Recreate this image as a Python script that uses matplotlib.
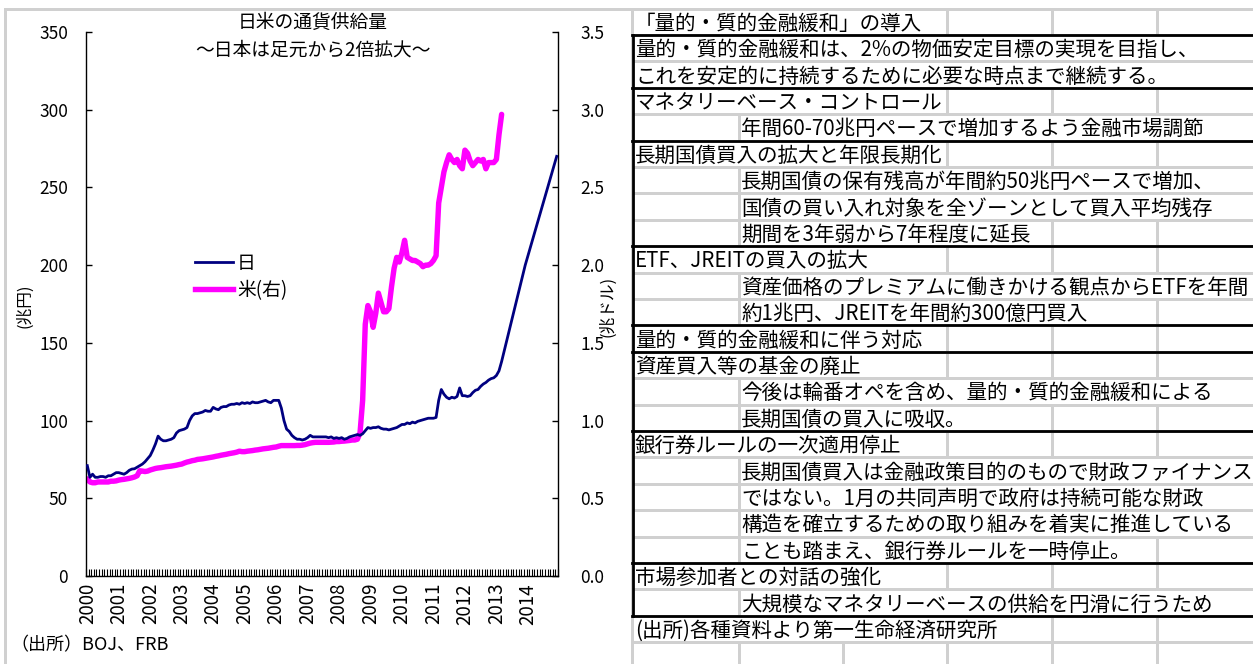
import numpy as np
import matplotlib.pyplot as plt
from matplotlib.lines import Line2D

plt.rcParams['font.family'] = ['Noto Sans CJK JP', 'DejaVu Sans']

W, H = 1253, 664

# ---- chart data (monthly, Jan 2000 onwards) ----
years = list(range(2000, 2015))

# Japan monetary base, trillion yen, Jan 2000 - Mar 2013
jp_base = [
    71, 63.5, 65.5, 63.5, 63.5, 64, 64, 63.5, 64.5, 64.5, 65.5, 66.5,            # 2000
    66.5, 66, 65.5, 66.5, 68, 68.8, 69, 70, 71, 72, 73.5, 75.5,                  # 2001
    77.5, 81, 85, 90, 88, 87, 87, 87.5, 88, 89, 92, 93.5,                        # 2002
    94, 94.5, 95.5, 100, 103, 104.5, 104.5, 105, 105.5, 106.5, 106, 106,         # 2003
    108.5, 107.5, 107, 108.5, 109, 109, 110, 110.5, 110.5, 111, 110.5, 111.5,    # 2004
    111, 111.5, 111, 112, 111.5, 111.5, 112, 112.5, 113, 112, 111.5, 113,        # 2005
    113, 113, 108, 100, 94.5, 93, 90.5, 89, 88, 88, 87.5, 88,                    # 2006
    89, 90.5, 89.5, 89.5, 89.5, 89.5, 89.5, 89.5, 89, 89.5, 88.5, 89,            # 2007
    88.5, 89, 88, 88.5, 89.5, 90, 90.5, 91, 90.5, 91.5, 93.5, 95.5,              # 2008
    95, 95.5, 95.5, 96, 95, 94.5, 94.5, 94, 94.5, 95, 95.5, 96.5,                # 2009
    97.5, 97.5, 98.5, 98, 99, 98.5, 99.5, 100, 100.5, 101, 101.5, 101.5,         # 2010
    101.5, 102, 113, 120, 117, 115, 114, 115, 114.5, 115.5, 121, 116,            # 2011
    116, 115.5, 116, 118, 119.5, 120, 122, 123.5, 124.5, 126, 127, 127.5,        # 2012
    129, 132, 138,                                                               # 2013
]
# BOJ targets (end 2013, end 2014)
jp_target_month = ['2013-12', '2014-12']
jp_target = [200, 270]

# US monetary base, trillion dollars, Jan 2000 - Mar 2013
us_base = [
    0.625, 0.605, 0.60, 0.60, 0.605, 0.605, 0.605, 0.605, 0.605, 0.61, 0.61, 0.612,   # 2000
    0.617, 0.62, 0.622, 0.625, 0.628, 0.632, 0.637, 0.645, 0.677, 0.675, 0.672, 0.675,  # 2001
    0.682, 0.687, 0.692, 0.695, 0.697, 0.70, 0.703, 0.705, 0.707, 0.71, 0.713, 0.717,   # 2002
    0.72, 0.727, 0.733, 0.737, 0.742, 0.745, 0.75, 0.752, 0.754, 0.757, 0.76, 0.763,    # 2003
    0.766, 0.77, 0.773, 0.777, 0.78, 0.783, 0.787, 0.79, 0.793, 0.797, 0.803, 0.80,    # 2004
    0.80, 0.803, 0.805, 0.807, 0.81, 0.812, 0.815, 0.818, 0.82, 0.822, 0.825, 0.828,   # 2005
    0.83, 0.835, 0.839, 0.839, 0.839, 0.839, 0.839, 0.839, 0.84, 0.84, 0.842, 0.845,   # 2006
    0.85, 0.855, 0.858, 0.86, 0.86, 0.86, 0.86, 0.86, 0.86, 0.861, 0.862, 0.865,       # 2007
    0.865, 0.867, 0.868, 0.87, 0.872, 0.875, 0.875, 0.88, 0.92, 1.13, 1.62, 1.74,      # 2008
    1.70, 1.60, 1.69, 1.82, 1.76, 1.70, 1.70, 1.72, 1.86, 1.98, 2.05, 2.02,            # 2009
    2.08, 2.16, 2.05, 2.04, 2.03, 2.03, 2.02, 2.01, 1.99, 2.00, 2.00, 2.01,            # 2010
    2.03, 2.06, 2.40, 2.50, 2.60, 2.66, 2.71, 2.68, 2.66, 2.68, 2.64, 2.62,            # 2011
    2.74, 2.72, 2.67, 2.64, 2.66, 2.68, 2.67, 2.68, 2.62, 2.66, 2.66, 2.66,            # 2012
    2.68, 2.84, 2.97,                                                                  # 2013
]

series_names = ['日', '米(右)']

# ---- table text (right side) ----
table_text = [
    '「量的・質的金融緩和」の導入',
    '量的・質的金融緩和は、2%の物価安定目標の実現を目指し、',
    'これを安定的に持続するために必要な時点まで継続する。',
    'マネタリーベース・コントロール',
    '年間60-70兆円ペースで増加するよう金融市場調節',
    '長期国債買入の拡大と年限長期化',
    '長期国債の保有残高が年間約50兆円ペースで増加、',
    '国債の買い入れ対象を全ゾーンとして買入平均残存',
    '期間を3年弱から7年程度に延長',
    'ETF、JREITの買入の拡大',
    '資産価格のプレミアムに働きかける観点からETFを年間',
    '約1兆円、JREITを年間約300億円買入',
    '量的・質的金融緩和に伴う対応',
    '資産買入等の基金の廃止',
    '今後は輪番オペを含め、量的・質的金融緩和による',
    '長期国債の買入に吸収。',
    '銀行券ルールの一次適用停止',
    '長期国債買入は金融政策目的のもので財政ファイナンス',
    'ではない。1月の共同声明で政府は持続可能な財政',
    '構造を確立するための取り組みを着実に推進している',
    'ことも踏まえ、銀行券ルールを一時停止。',
    '市場参加者との対話の強化',
    '大規模なマネタリーベースの供給を円滑に行うため',
    '(出所)各種資料より第一生命経済研究所',
    '',
]
table_indent = [0, 0, 0, 0, 1, 0, 1, 1, 1, 0, 1, 1, 0, 0, 1, 1, 0, 1, 1, 1, 1, 0, 1, 0, 0]
box_breaks = [1, 3, 5, 9, 12, 13, 16, 21, 23]   # rows with a thick top border


def fx(x):
    return x / W


def fy(y):
    return 1 - y / H


def month_index(s):
    y, m = s.split('-')
    return (int(y) - 2000) * 12 + int(m) - 1


fig = plt.figure(figsize=(W / 100, H / 100), dpi=100)
ax = fig.add_axes([fx(86), fy(576), (558 - 86) / W, (576 - 32) / H])
ax2 = ax.twinx()

navy = '#000080'
magenta = '#ff00ff'

jp_x = list(np.arange(len(jp_base)) + 0.5) + [month_index(m) + 0.5 for m in jp_target_month]
jp_y = jp_base + jp_target
ax.plot(jp_x, jp_y, color=navy, lw=2.0, solid_joinstyle='round', zorder=3)

us_x = np.arange(len(us_base)) + 0.5
ax2.plot(us_x, us_base, color=magenta, lw=3.9, solid_joinstyle='round',
         solid_capstyle='round', zorder=2)

ax.set_xlim(0, 180)
ax.set_ylim(0, 350)
ax2.set_ylim(0, 3.5)
ax.set_yticks(np.arange(0, 351, 50))
ax2.set_yticks(np.arange(0, 3.51, 0.5))
ax2.set_yticklabels(['%.1f' % v for v in np.arange(0, 3.51, 0.5)])

ax.set_xticks([12 * k + 0.5 for k in range(len(years))])
ax.set_xticklabels([str(y) for y in years], rotation=90, fontsize=13.5)
ax.set_xticks(np.arange(0, 181), minor=True)
ax.tick_params(axis='x', which='major', length=0, pad=5)
ax.tick_params(axis='x', which='minor', direction='in', length=5, width=0.8)
ax.tick_params(axis='y', direction='in', length=4, width=1, labelsize=12.5, pad=13)
ax2.tick_params(axis='y', direction='in', length=4, width=1, labelsize=12.5, pad=16)

for a in (ax, ax2):
    a.spines['top'].set_visible(False)
    for s in a.spines.values():
        s.set_linewidth(1.0)
ax.spines['right'].set_visible(False)
ax2.spines['left'].set_visible(False)
ax2.spines['bottom'].set_visible(False)
ax.set_zorder(ax2.get_zorder() + 1)
ax.patch.set_visible(False)

handles = [Line2D([], [], color=navy, lw=2.0), Line2D([], [], color=magenta, lw=3.9)]
ax.legend(handles, series_names, loc='upper left', bbox_to_anchor=(fx(195), fy(253)),
          bbox_transform=fig.transFigure, frameon=False, fontsize=13.5,
          handlelength=2.0, handletextpad=0.25, labelspacing=0.3,
          borderpad=0, borderaxespad=0)

# titles and labels
fig.text(fx(313), fy(22), '日米の通貨供給量', ha='center', va='center', fontsize=13.5)
fig.text(fx(313), fy(50), '～日本は足元から2倍拡大～', ha='center', va='center', fontsize=13.5)
fig.text(fx(25), fy(306), '(兆円)', rotation=90, ha='center', va='center', fontsize=12)
fig.text(fx(608), fy(306), '(兆ドル)', rotation=90, ha='center', va='center', fontsize=12)
fig.text(fx(10), fy(645), '（出所）BOJ、FRB', ha='left', va='center', fontsize=13)

# chart frame
grey = '#d0d0d0'
fig.add_artist(Line2D([fx(5), fx(632)], [fy(9), fy(9)], transform=fig.transFigure,
                      color=grey, lw=1, antialiased=False))
fig.add_artist(Line2D([fx(5), fx(5)], [fy(9), fy(664)], transform=fig.transFigure,
                      color=grey, lw=1, antialiased=False))

# ---- spreadsheet-like table ----
row_top0, row_h = 8.5, 26.4
col_edges = [632, 739, 843, 947, 1051.5, 1157]

texts = []
for i, (t, ind) in enumerate(zip(table_text, table_indent)):
    yc = row_top0 + (i + 0.5) * row_h + 2
    x0 = col_edges[1] + 2 if ind else col_edges[0] + 3
    texts.append(fig.text(fx(x0), fy(yc), t, ha='left', va='center', fontsize=14.8))

fig.canvas.draw()
rend = fig.canvas.get_renderer()

for i, t in enumerate(texts):
    top = row_top0 + i * row_h
    bot = top + row_h
    start = col_edges[1] if table_indent[i] else col_edges[0]
    end = t.get_window_extent(rend).x1 if table_text[i] else 0
    for e in col_edges:
        if e <= start or e >= end:
            fig.add_artist(Line2D([fx(e), fx(e)], [fy(top), fy(bot)], transform=fig.transFigure,
                                  color=grey, lw=1, antialiased=False, zorder=0))

for r in range(len(table_text) + 1):
    y = row_top0 + r * row_h
    fig.add_artist(Line2D([fx(632), fx(W)], [fy(y), fy(y)], transform=fig.transFigure,
                          color=grey, lw=1, antialiased=False, zorder=0))

for r in box_breaks:
    y = row_top0 + r * row_h
    fig.add_artist(Line2D([fx(632), fx(W)], [fy(y), fy(y)], transform=fig.transFigure,
                          color='black', lw=2, zorder=2))
fig.add_artist(Line2D([fx(633), fx(633)], [fy(row_top0 + row_h), fy(row_top0 + 23 * row_h)],
                      transform=fig.transFigure, color='black', lw=2, zorder=2))

fig.savefig('out.png', dpi=100)
